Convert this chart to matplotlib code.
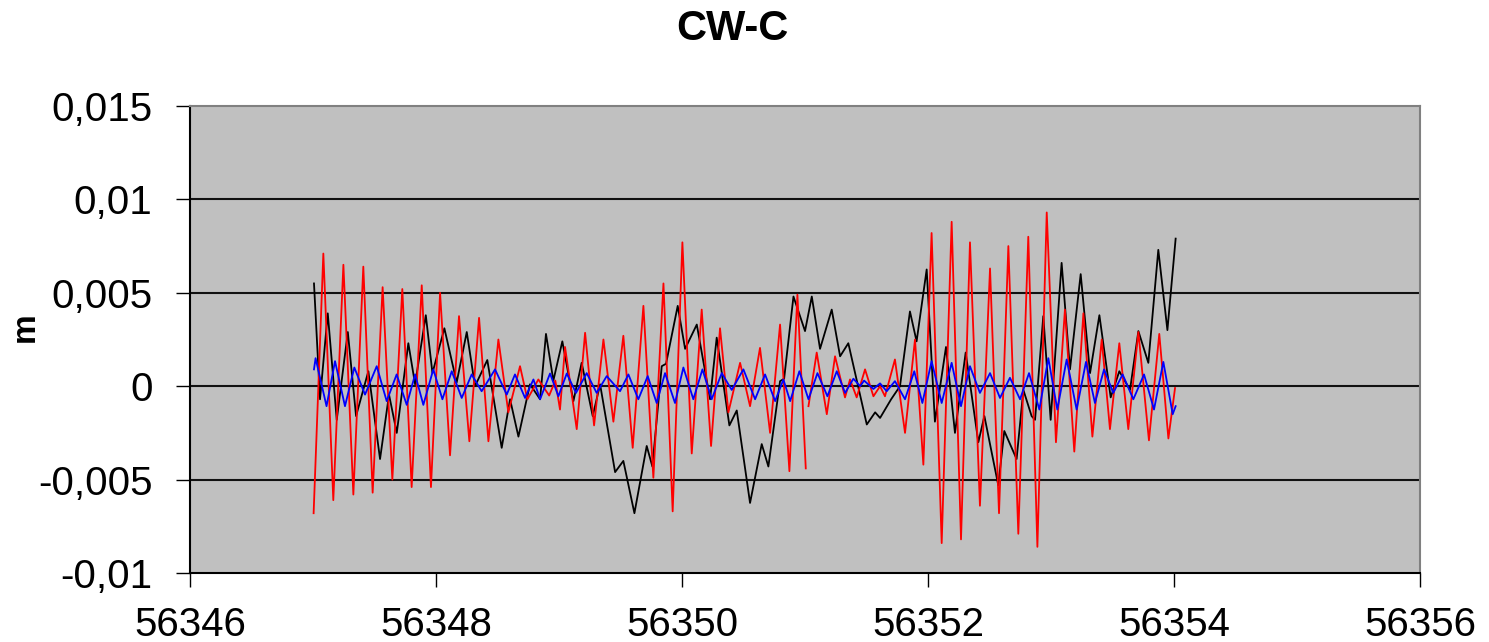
import numpy as np
import matplotlib
matplotlib.use("Agg")
import matplotlib.pyplot as plt

plt.rcParams['font.family'] = ['Liberation Sans', 'DejaVu Sans']

# red series: times (MJD) and values (m), NaN marks a gap in the record
red_t = [56347.005, 56347.084, 56347.165, 56347.247, 56347.328, 56347.409, 56347.485,
         56347.566, 56347.645, 56347.726, 56347.802, 56347.884, 56347.959, 56348.033,
         56348.114, 56348.187, 56348.271, 56348.350, 56348.426, 56348.507, 56348.588,
         56348.683, 56348.743, 56348.832, 56348.920, 56348.970, 56349.008, 56349.049,
         56349.144, 56349.212, 56349.285, 56349.361, 56349.442, 56349.523, 56349.599,
         56349.686, 56349.767, 56349.849, 56349.924, 56350.003, 56350.079, 56350.160,
         56350.236, 56350.309, 56350.377, 56350.472, 56350.553, 56350.634, 56350.716,
         56350.797, 56350.873, 56350.938, 56351.006, 56351.017, 56351.028, 56351.095,
         56351.177, 56351.244, 56351.325, 56351.366, 56351.420, 56351.488, 56351.556,
         56351.610, 56351.650, 56351.731, 56351.813, 56351.894, 56351.962, 56352.029,
         56352.111, 56352.192, 56352.268, 56352.341, 56352.422, 56352.504, 56352.577,
         56352.653, 56352.734, 56352.815, 56352.889, 56352.965, 56353.040, 56353.113,
         56353.189, 56353.263, 56353.336, 56353.412, 56353.479, 56353.555, 56353.628,
         56353.710, 56353.796, 56353.880, 56353.954, 56354.008]
red_v = [-0.0068, 0.0071, -0.0061, 0.0065, -0.0058, 0.0064, -0.0057,
         0.0053, -0.0050, 0.0052, -0.0054, 0.0054, -0.0054, 0.0050,
         -0.0037, 0.00375, -0.00295, 0.00366, -0.00295, 0.0025, -0.0014,
         0.00107, -0.0007, 0.00036, -0.0005, 0.0003, -0.00125, 0.0021,
         -0.0023, 0.00286, -0.0021, 0.0025, -0.0019, 0.0027, -0.0033,
         0.0043, -0.0049, 0.0055, -0.0067, 0.0077, -0.0036, 0.0041,
         -0.0032, 0.0031, -0.0014, 0.00125, -0.00107, 0.00205, -0.0025,
         0.0033, -0.00455, 0.0049, -0.0044, np.nan, -0.00107, 0.0018,
         -0.0015, 0.0016, -0.0006, 0.00036, -0.0006, 0.0009, -0.00054,
         0.0, -0.00054, 0.00143, -0.0025, 0.0025, -0.0042, 0.0082,
         -0.0084, 0.0088, -0.0082, 0.0077, -0.0064, 0.0063, -0.0068,
         0.0075, -0.0079, 0.0080, -0.0086, 0.0093, -0.0030, 0.0041,
         -0.0035, 0.0039, -0.0027, 0.0025, -0.0023, 0.0023, -0.0023,
         0.0029, -0.0029, 0.0028, -0.0028, -0.0001]

# black series
black_t = [56347.008, 56347.057, 56347.120, 56347.193, 56347.283, 56347.350, 56347.450,
           56347.545, 56347.618, 56347.681, 56347.775, 56347.830, 56347.917, 56347.971,
           56348.068, 56348.168, 56348.250, 56348.317, 56348.417, 56348.534, 56348.602,
           56348.670, 56348.764, 56348.846, 56348.894, 56348.954, 56349.027, 56349.117,
           56349.184, 56349.274, 56349.334, 56349.456, 56349.523, 56349.613, 56349.713,
           56349.759, 56349.835, 56349.870, 56349.965, 56350.025, 56350.120, 56350.228,
           56350.282, 56350.385, 56350.445, 56350.553, 56350.648, 56350.702, 56350.797,
           56350.830, 56350.906, 56351.000, 56351.055, 56351.122, 56351.217, 56351.285,
           56351.352, 56351.502, 56351.570, 56351.610, 56351.700, 56351.772, 56351.853,
           56351.907, 56351.989, 56352.056, 56352.146, 56352.219, 56352.306, 56352.409,
           56352.458, 56352.571, 56352.620, 56352.720, 56352.775, 56352.842, 56352.870,
           56352.937, 56352.997, 56353.086, 56353.154, 56353.241, 56353.317, 56353.393,
           56353.485, 56353.555, 56353.642, 56353.710, 56353.791, 56353.872, 56353.946,
           56354.013]
black_v = [0.0055, -0.0007, 0.0039, -0.0018, 0.0029, -0.0016, 0.0008,
           -0.0039, -0.00045, -0.0025, 0.0023, 0.0001, 0.0038, 0.0007,
           0.0031, 0.0002, 0.0029, 0.0, 0.0014, -0.0033, -0.0007,
           -0.0027, 0.0001, -0.0007, 0.0028, 0.0003, 0.0024, -0.0008,
           0.00125, -0.0016, 0.0001, -0.0046, -0.0040, -0.0068, -0.0032,
           -0.0043, 0.00107, 0.0012, 0.0043, 0.0020, 0.0033, -0.0007,
           0.0026, -0.0021, -0.0013, -0.00625, -0.0031, -0.0043, 0.00027,
           0.0004, 0.0048, 0.00295, 0.0048, 0.0020, 0.0041, 0.0016,
           0.0023, -0.00205, -0.0014, -0.0017, -0.0007, 0.0, 0.0040,
           0.0024, 0.00625, -0.0019, 0.0021, -0.0025, 0.0018, -0.0030,
           -0.0016, -0.0053, -0.0024, -0.0039, -0.0002, -0.0016, -0.0018,
           0.00375, -0.0018, 0.0066, 0.0009, 0.0060, 0.0007, 0.0038,
           -0.0006, 0.0008, -0.0002, 0.00295, 0.00125, 0.0073, 0.0030,
           0.0079]

# blue series
blue_t = [56347.008, 56347.021, 56347.110, 56347.179, 56347.260, 56347.336, 56347.423,
          56347.518, 56347.599, 56347.680, 56347.762, 56347.830, 56347.897, 56347.978,
          56348.052, 56348.128, 56348.209, 56348.290, 56348.371, 56348.480, 56348.575,
          56348.642, 56348.724, 56348.792, 56348.846, 56348.927, 56348.995, 56349.063,
          56349.138, 56349.225, 56349.306, 56349.388, 56349.496, 56349.564, 56349.645,
          56349.721, 56349.794, 56349.862, 56349.943, 56350.011, 56350.092, 56350.166,
          56350.241, 56350.323, 56350.404, 56350.499, 56350.594, 56350.675, 56350.757,
          56350.824, 56350.879, 56350.954, 56351.028, 56351.101, 56351.182, 56351.258,
          56351.326, 56351.393, 56351.448, 56351.480, 56351.556, 56351.610, 56351.664,
          56351.731, 56351.813, 56351.888, 56351.954, 56352.029, 56352.111, 56352.192,
          56352.268, 56352.341, 56352.422, 56352.504, 56352.585, 56352.666, 56352.748,
          56352.821, 56352.905, 56352.978, 56353.051, 56353.127, 56353.208, 56353.284,
          56353.357, 56353.431, 56353.506, 56353.582, 56353.669, 56353.756, 56353.837,
          56353.913, 56353.989, 56354.013]
blue_v = [0.0009, 0.0015, -0.00107, 0.00134, -0.00107, 0.0010, -0.00045,
          0.00107, -0.0008, 0.00063, -0.0010, 0.00063, -0.0010, 0.0009,
          -0.0007, 0.0008, -0.00063, 0.00063, -0.00027, 0.0009, -0.00045,
          0.00063, -0.00063, 0.00036, -0.0007, 0.00068, -0.00054, 0.00068,
          -0.00036, 0.0007, -0.00036, 0.00054, -0.00027, 0.00063, -0.0007,
          0.00054, -0.0009, 0.0007, -0.0009, 0.0010, -0.0007, 0.0009,
          -0.0007, 0.0007, -0.0002, 0.0009, -0.0007, 0.00063, -0.0008,
          0.00036, -0.0008, 0.0008, -0.0007, 0.0007, -0.00054, 0.0008,
          -0.00036, 0.0004, 0.0, 0.0003, -0.00015, 0.00015, -0.00027,
          0.00027, -0.0007, 0.0008, -0.0009, 0.00134, -0.0009, 0.00125,
          -0.00107, 0.00107, -0.00036, 0.0007, -0.00063, 0.00045, -0.0007,
          0.0007, -0.00125, 0.0015, -0.00125, 0.00143, -0.00125, 0.0013,
          -0.0009, 0.0009, -0.00036, 0.00063, -0.0007, 0.00063, -0.00125,
          0.0013, -0.0015, -0.00107]

x_ticks = [56346, 56348, 56350, 56352, 56354, 56356]
y_ticks = [-0.01, -0.005, 0, 0.005, 0.01, 0.015]
y_labels = ["-0,01", "-0,005", "0", "0,005", "0,01", "0,015"]

fig = plt.figure(figsize=(14.89, 6.42), dpi=100)
ax = fig.add_axes([0.1276, 0.1075, 0.8261, 0.7274])
ax.set_facecolor('#c0c0c0')

for y in y_ticks[1:-1]:
    ax.axhline(y, color='#111111', lw=1.5, zorder=1)

ax.plot(black_t, black_v, color='black', lw=1.3, zorder=2)
ax.plot(red_t, red_v, color='#ff0000', lw=1.3, zorder=3)
ax.plot(blue_t, blue_v, color='#0000ff', lw=1.3, zorder=4)

ax.set_xlim(56346, 56356)
ax.set_ylim(-0.01, 0.015)
ax.set_xticks(x_ticks)
ax.set_xticklabels([str(t) for t in x_ticks])
ax.set_yticks(y_ticks)
ax.set_yticklabels(y_labels)

ax.tick_params(axis='y', direction='out', length=10, width=1, pad=17, labelsize=29)
ax.tick_params(axis='x', direction='out', length=10, width=1, pad=14, labelsize=29)

for side in ['left', 'bottom']:
    ax.spines[side].set_color('black')
    ax.spines[side].set_linewidth(1.5)
for side in ['top', 'right']:
    ax.spines[side].set_color('#808080')
    ax.spines[side].set_linewidth(1.5)

fig.text(0.492, 0.955, "CW-C", ha='center', va='center', fontsize=30, fontweight='bold')
fig.text(0.017, 0.49, "m", ha='center', va='center', rotation=90, fontsize=24, fontweight='bold')

fig.savefig("out.png", dpi=100)
